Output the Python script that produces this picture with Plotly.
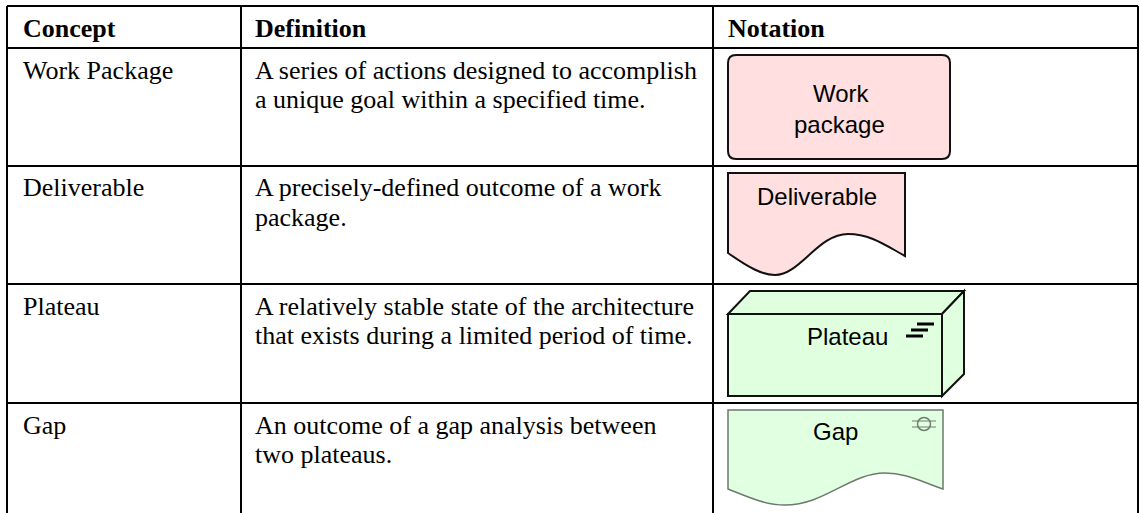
import plotly.graph_objects as go

# Table structure
column_edges = [7, 241, 713, 1138]
row_edges = [6, 48, 166, 284, 403, 513]
headers = ["Concept", "Definition", "Notation"]
concepts = ["Work Package", "Deliverable", "Plateau", "Gap"]
definitions = [
    ["A series of actions designed to accomplish", "a unique goal within a specified time."],
    ["A precisely-defined outcome of a work", "package."],
    ["A relatively stable state of the architecture", "that exists during a limited period of time."],
    ["An outcome of a gap analysis between", "two plateaus."],
]
header_y = 28
row_first_line_y = [70, 187.5, 306, 425]
line_gap = 29.5
text_x = [23, 255]
header_x = [23, 255, 728]

# Notation glyph outlines (SVG paths in picture coordinates)
work_path = "M736,55 L942,55 Q950,55 950,63 L950,151 Q950,159 942,159 L736,159 Q728,159 728,151 L728,63 Q728,55 736,55 Z"
deliv_path = "M728,173 L905,173 L905,256 C885,245 870,234 848,234 C818,234 800,275 775,275 C762,275 748,267 728,253 Z"
plat_front = "M728,314 L942,314 L942,396 L728,396 Z"
plat_top = "M728,314 L750,291 L964,291 L942,314 Z"
plat_side = "M942,314 L964,291 L964,374 L942,396 Z"
gap_path = "M728,410 L943,410 L943,489 C920,481 905,473 885,473 C850,473 825,505 785,505 C765,505 748,497 728,489 Z"
plateau_bars = [(917, 934, 324), (911, 928, 330), (906, 923, 336)]
gap_lines = [(912, 936, 421), (912, 936, 427)]
gap_circle = (917.5, 417.5, 930.5, 430.5)

glyph_labels = [
    ("Work", 841, 93), ("package", 839, 124), ("Deliverable", 817, 196),
    ("Plateau", 847, 336), ("Gap", 835, 431),
]

PINK = "#FFDFDF"
GREEN = "#DFFFDF"
GAP_GREEN = "#E1FFE1"
DARK = "#111111"

fig = go.Figure()

# grid
gx, gy = [], []
for x in column_edges:
    gx += [x, x, None]
    gy += [row_edges[0], row_edges[-1], None]
for y in row_edges[:-1]:
    gx += [column_edges[0], column_edges[-1], None]
    gy += [y, y, None]
fig.add_trace(go.Scatter(x=gx, y=gy, mode="lines", line=dict(color="black", width=2),
                         hoverinfo="skip", showlegend=False))

shapes = []
def path(d, fill, color=DARK, width=2):
    shapes.append(dict(type="path", path=d, xref="x", yref="y", fillcolor=fill,
                       line=dict(color=color, width=width), layer="above"))

path(work_path, PINK)
path(deliv_path, PINK)
path(plat_top, GREEN)
path(plat_side, GREEN)
path(plat_front, GREEN)
path(gap_path, GAP_GREEN, color="#6E7A6E", width=1.5)
for x0, x1, y in plateau_bars:
    shapes.append(dict(type="line", x0=x0, x1=x1, y0=y, y1=y, xref="x", yref="y",
                       line=dict(color="black", width=3)))
for x0, x1, y in gap_lines:
    shapes.append(dict(type="line", x0=x0, x1=x1, y0=y, y1=y, xref="x", yref="y",
                       line=dict(color="#9AA59A", width=1.5)))
shapes.append(dict(type="circle", x0=gap_circle[0], y0=gap_circle[1], x1=gap_circle[2], y1=gap_circle[3],
                   xref="x", yref="y", line=dict(color="#6E7A6E", width=1.5)))

ann = []
SERIF = "Liberation Serif"
SANS = "Liberation Sans"
def text(s, x, y, font, size, anchor="left", bold=False):
    ann.append(dict(x=x, y=y, xref="x", yref="y", text=f"<b>{s}</b>" if bold else s, showarrow=False,
                    xanchor=anchor, yanchor="middle", font=dict(family=font, size=size, color="black"),
                    borderpad=0, borderwidth=0))

for h, x in zip(headers, header_x):
    text(h, x, header_y, SERIF, 26, bold=True)
for c, d, y in zip(concepts, definitions, row_first_line_y):
    text(c, text_x[0], y, SERIF, 26)
    for i, line in enumerate(d):
        text(line, text_x[1], y + i * line_gap, SERIF, 26)
for s, x, y in glyph_labels:
    text(s, x, y, SANS, 24, anchor="center")

fig.update_layout(
    width=1139, height=513, margin=dict(l=0, r=0, t=0, b=0),
    paper_bgcolor="white", plot_bgcolor="white", shapes=shapes, annotations=ann, showlegend=False,
    xaxis=dict(range=[0, 1139], visible=False, fixedrange=True),
    yaxis=dict(range=[513, 0], visible=False, fixedrange=True),
)
fig.write_html("out.html", config={"displayModeBar": False},
               post_script="document.body.style.margin='0';document.body.style.overflow='hidden';")
